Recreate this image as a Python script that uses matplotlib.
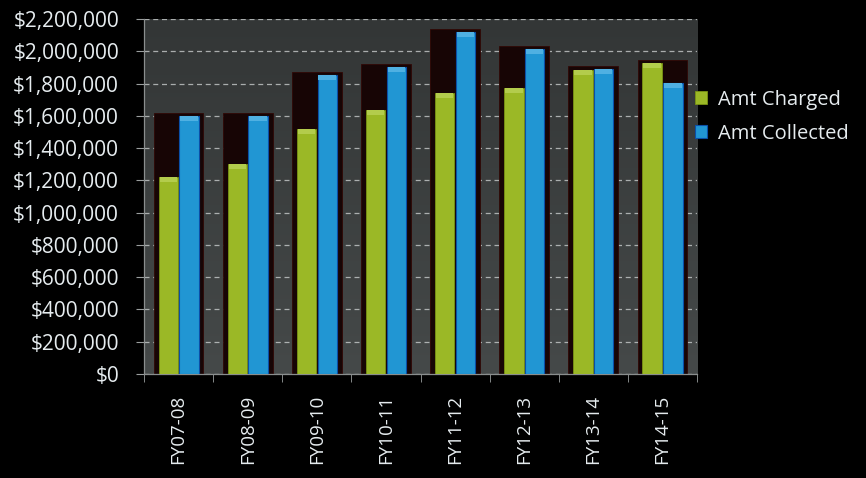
import numpy as np
import matplotlib
matplotlib.use('Agg')
from matplotlib import pyplot as plt
from matplotlib.ticker import FuncFormatter, MultipleLocator

years = ['FY07-08', 'FY08-09', 'FY09-10', 'FY10-11',
         'FY11-12', 'FY12-13', 'FY13-14', 'FY14-15']
charged = [1220000, 1300000, 1518000, 1636000, 1743000, 1774000, 1883000, 1925000]
collected = [1600000, 1600000, 1853000, 1900000, 2120000, 2013000, 1890000, 1805000]

plt.rcParams['font.family'] = ['Open Sans', 'DejaVu Sans']

green = '#9bb826'
green_top = '#b3cc4c'
blue = '#2196d3'
blue_top = '#4fb0e2'
txt = '#e6ecef'

fig = plt.figure(figsize=(8.66, 4.78), dpi=100, facecolor='black')
ax = fig.add_axes([0.1663, 0.2176, 0.6386, 0.7427])
ax.set_facecolor('#373a3a')

x = np.arange(len(years))
ax.set_xlim(-0.5, len(years) - 0.5)
ax.set_ylim(0, 2200000)

# soft vertical shading of the plot area
grad = np.linspace(1, 0, 256).reshape(-1, 1)
ax.imshow(grad, extent=(-0.5, len(years) - 0.5, 0, 2200000), aspect='auto',
          cmap=matplotlib.colors.LinearSegmentedColormap.from_list('bg', ['#333636', '#454949']),
          origin='lower', zorder=0)

ax.yaxis.set_major_locator(MultipleLocator(200000))
ax.grid(axis='y', color='#c8cccc', linestyle=(0, (4, 3)), linewidth=0.9, alpha=0.8, zorder=1)

# dark backing block behind each pair
tops = np.maximum(charged, collected) + 20000
ax.bar(x, tops, width=0.72, color='#170505', edgecolor='#300805', linewidth=0.6, zorder=2)

bw = 0.28
off = 0.15
ax.bar(x - off, charged, width=bw, color=green, edgecolor='#7a9414', linewidth=0.6,
       zorder=3, label='Amt Charged')
ax.bar(x + off, collected, width=bw, color=blue, edgecolor='#0b4fa8', linewidth=0.8,
       zorder=3, label='Amt Collected')
# bevelled caps
cap = 30000
ax.bar(x - off, [cap] * len(x), bottom=np.array(charged) - cap, width=bw * 0.9,
       color=green_top, linewidth=0, zorder=4)
ax.bar(x + off, [cap] * len(x), bottom=np.array(collected) - cap, width=bw * 0.9,
       color=blue_top, linewidth=0, zorder=4)

ax.yaxis.set_major_formatter(FuncFormatter(lambda v, p: '${:,.0f}'.format(v)))
ax.tick_params(axis='y', colors='#9a9e9e', labelcolor=txt, labelsize=15,
               length=6, direction='out', pad=12)
ax.set_xticks(x)
ax.set_xticklabels(years, rotation=90, color=txt, fontsize=13.5)
ax.tick_params(axis='x', length=0, pad=15)
ax.set_xticks(np.arange(-0.5, len(years)), minor=True)
ax.tick_params(axis='x', which='minor', length=6, color='#9a9e9e')

for s in ['top', 'right']:
    ax.spines[s].set_visible(False)
for s in ['left', 'bottom']:
    ax.spines[s].set_color('#8a8e8e')
    ax.spines[s].set_linewidth(0.9)

leg = ax.legend(loc='upper left', bbox_to_anchor=(0.975, 0.835), frameon=False,
                fontsize=14.5, handlelength=0.6, handleheight=0.6,
                handletextpad=0.55, labelspacing=0.7, borderaxespad=0.2)
for t in leg.get_texts():
    t.set_color(txt)

fig.savefig('out.png', dpi=100, facecolor='black')
